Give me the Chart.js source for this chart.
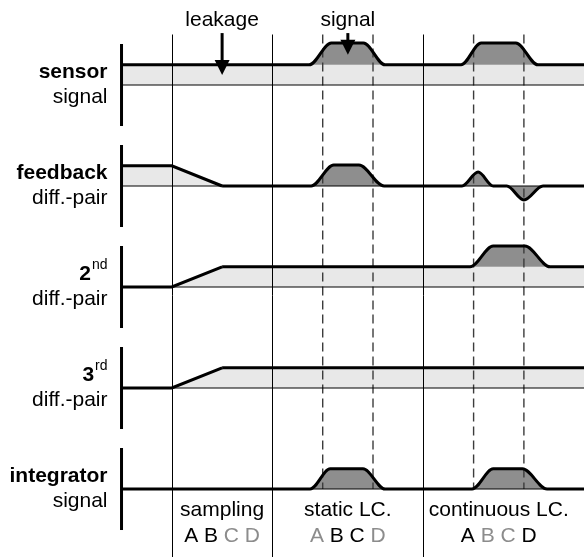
<!DOCTYPE html>
<html><head><meta charset="utf-8">
<script src="https://cdn.jsdelivr.net/npm/chart.js@4/dist/chart.umd.min.js"></script>
<style>html,body{margin:0;padding:0;background:#fff}canvas{display:block}</style>
</head><body>
<canvas id="c" width="584" height="557"></canvas>
<script>
// ---- data ----
const phaseBounds = [1, 3, 6, 9];
const phaseNames = ['sampling', 'static LC.', 'continuous LC.'];
const switchNames = ['A', 'B', 'C', 'D'];
const switchActive = [[1, 1, 0, 0], [0, 1, 1, 0], [1, 0, 0, 1]];
const readoutTimes = [4, 5, 7, 8];

const rowTitles = ['sensor', 'feedback', '2', '3', 'integrator'];
const rowTitleSup = ['', '', 'nd', 'rd', ''];
const rowSubtitles = ['signal', 'diff.-pair', 'diff.-pair', 'diff.-pair', 'signal'];

// leakage level (piecewise linear) per row
const sensorLeakT = [0, 9.3];
const sensorLeakV = [1, 1];
const feedbackLeakT = [0, 1, 2, 9.3];
const feedbackLeakV = [1, 1, 0, 0];
const secondLeakT = [0, 1, 2, 9.3];
const secondLeakV = [0, 0, 1, 1];
const thirdLeakT = [0, 1, 2, 9.3];
const thirdLeakV = [0, 0, 1, 1];
const integratorLeakT = [0, 9.3];
const integratorLeakV = [0, 0];

// smooth signal curve per row
const sensorSigT = [0, 3.73, 4.17, 4.81, 5.24, 6.75, 7.15, 7.84, 8.28, 9.3];
const sensorSigV = [1, 1, 2.08, 2.08, 1, 1, 2.08, 2.08, 1, 1];
const feedbackSigT = [2, 3.77, 4.22, 4.72, 5.22, 6.77, 7.09, 7.39, 7.66, 8.0, 8.38, 9.3];
const feedbackSigV = [0, 0, 1.04, 1.04, 0, 0, 0.69, 0, 0, -0.69, 0, 0];
const secondSigT = [2, 6.93, 7.39, 8.02, 8.52, 9.3];
const secondSigV = [1, 1, 2.03, 2.03, 1, 1];
const thirdSigT = [2, 9.3];
const thirdSigV = [1, 1];
const integratorSigT = [0, 3.75, 4.15, 4.8, 5.24, 6.97, 7.39, 7.97, 8.46, 9.3];
const integratorSigV = [0, 0, 1, 1, 0, 0, 1, 1, 0, 0];

const calloutTexts = ['leakage', 'signal'];
const calloutT = [2, 4.5];
const calloutTipV = [0.5, 1.5];

// ---- build ----
const leakT = [sensorLeakT, feedbackLeakT, secondLeakT, thirdLeakT, integratorLeakT];
const leakV = [sensorLeakV, feedbackLeakV, secondLeakV, thirdLeakV, integratorLeakV];
const sigT = [sensorSigT, feedbackSigT, secondSigT, thirdSigT, integratorSigT];
const sigV = [sensorSigV, feedbackSigV, secondSigV, thirdSigV, integratorSigV];

const ROW_GAP = 5;
const LIGHT = '#e8e8e8', DARK = '#8e8e8e';
const FONT = '"Liberation Sans", Arial, Helvetica, sans-serif';
const rowBase = i => -ROW_GAP * i;
const pts = (T, V, b) => T.map((t, k) => ({x: t, y: V[k] + b}));

const datasets = [];
rowTitles.forEach((_, i) => {
  const b = rowBase(i);
  const lT = leakT[i], lV = leakV[i], sT = sigT[i], sV = sigV[i];
  datasets.push({data: pts(lT, lV, b), borderWidth: 0, pointRadius: 0, tension: 0,
    fill: {value: b}, backgroundColor: LIGHT, order: 4});
  datasets.push({data: [{x: 0, y: b}, {x: lT[lT.length - 1], y: b}], borderColor: '#000',
    borderWidth: 1, pointRadius: 0, tension: 0, fill: false, order: 2});
  const rT = lT.filter(t => t <= sT[0]);
  if (rT.length > 1) {
    datasets.push({data: pts(rT, lV.slice(0, rT.length), b), borderColor: '#000',
      borderWidth: 3, pointRadius: 0, tension: 0, fill: false, order: 1});
  }
  datasets.push({data: pts(sT, sV, b), borderColor: '#000', borderWidth: 3, pointRadius: 0,
    cubicInterpolationMode: 'monotone', fill: {value: b + lV[lV.length - 1]},
    backgroundColor: DARK, order: 1});
});

const deco = {
  id: 'deco',
  beforeDatasetsDraw(chart) {
    const {ctx, scales: {x, y}, chartArea} = chart;
    const top = y.getPixelForValue(2.5);
    ctx.save();
    ctx.strokeStyle = '#000';
    ctx.lineWidth = 1;
    phaseBounds.slice(0, -1).forEach(t => {
      const px = Math.round(x.getPixelForValue(t)) + 0.5;
      ctx.beginPath(); ctx.moveTo(px, top); ctx.lineTo(px, chartArea.bottom); ctx.stroke();
    });
    ctx.strokeStyle = '#3c3c3c';
    ctx.lineWidth = 1.4;
    ctx.setLineDash([9, 5]);
    const bot = y.getPixelForValue(rowBase(rowTitles.length - 1));
    readoutTimes.forEach(t => {
      const px = x.getPixelForValue(t);
      ctx.beginPath(); ctx.moveTo(px, top); ctx.lineTo(px, bot); ctx.stroke();
    });
    ctx.restore();
  },
  afterDraw(chart) {
    const {ctx, scales: {x, y}} = chart;
    ctx.save();
    const ax = x.getPixelForValue(0);
    const labelRight = ax - 14;
    rowTitles.forEach((title, i) => {
      const b = rowBase(i);
      const by = y.getPixelForValue(b);
      ctx.fillStyle = '#000';
      const y1 = y.getPixelForValue(b + 2.03), y2 = y.getPixelForValue(b - 2.03);
      ctx.fillRect(ax - 1.5, y1, 3, y2 - y1);
      ctx.textBaseline = 'middle';
      ctx.textAlign = 'right';
      let xr = labelRight;
      if (rowTitleSup[i]) {
        ctx.font = '14px ' + FONT;
        ctx.fillText(rowTitleSup[i], xr, by - 22);
        xr -= ctx.measureText(rowTitleSup[i]).width + 1;
      }
      ctx.font = 'bold 21px ' + FONT;
      ctx.fillText(title, xr, by - 13);
      ctx.font = '21px ' + FONT;
      ctx.fillText(rowSubtitles[i], labelRight, by + 12);
    });
    const lastBase = y.getPixelForValue(rowBase(rowTitles.length - 1));
    ctx.textAlign = 'center';
    phaseNames.forEach((name, p) => {
      const cx = x.getPixelForValue((phaseBounds[p] + phaseBounds[p + 1]) / 2);
      ctx.font = '21px ' + FONT;
      ctx.fillStyle = '#000';
      ctx.fillText(name, cx, lastBase + 21);
      const space = ctx.measureText(' ').width;
      const widths = switchNames.map(s => ctx.measureText(s).width);
      const total = widths.reduce((a, c) => a + c, 0) + space * (switchNames.length - 1);
      let cxl = cx - total / 2;
      ctx.textAlign = 'left';
      switchNames.forEach((s, k) => {
        ctx.fillStyle = switchActive[p][k] ? '#000' : '#8c8c8c';
        ctx.fillText(s, cxl, lastBase + 47);
        cxl += widths[k] + space;
      });
      ctx.textAlign = 'center';
    });
    ctx.fillStyle = '#000';
    ctx.strokeStyle = '#000';
    calloutTexts.forEach((txt, k) => {
      const px = x.getPixelForValue(calloutT[k]);
      const tip = y.getPixelForValue(calloutTipV[k]);
      const topY = y.getPixelForValue(2.57);
      ctx.font = '21px ' + FONT;
      ctx.textAlign = 'center';
      ctx.fillText(txt, px, y.getPixelForValue(3.2));
      const head = 15;
      ctx.lineWidth = 3;
      ctx.beginPath(); ctx.moveTo(px, topY); ctx.lineTo(px, tip - head + 1); ctx.stroke();
      ctx.beginPath();
      ctx.moveTo(px - 7.5, tip - head); ctx.lineTo(px + 7.5, tip - head); ctx.lineTo(px, tip);
      ctx.closePath(); ctx.fill();
    });
    ctx.restore();
  }
};

new Chart(document.getElementById('c'), {
  type: 'line',
  data: {datasets},
  options: {
    responsive: false,
    animation: false,
    devicePixelRatio: 1,
    layout: {padding: 0},
    events: [],
    scales: {
      x: {type: 'linear', display: false, min: -2.416, max: 9.195},
      y: {type: 'linear', display: false, min: -23.366, max: 4.208}
    },
    plugins: {
      legend: {display: false},
      tooltip: {enabled: false},
      filler: {drawTime: 'beforeDatasetsDraw'}
    }
  },
  plugins: [deco]
});
</script>
</body></html>
